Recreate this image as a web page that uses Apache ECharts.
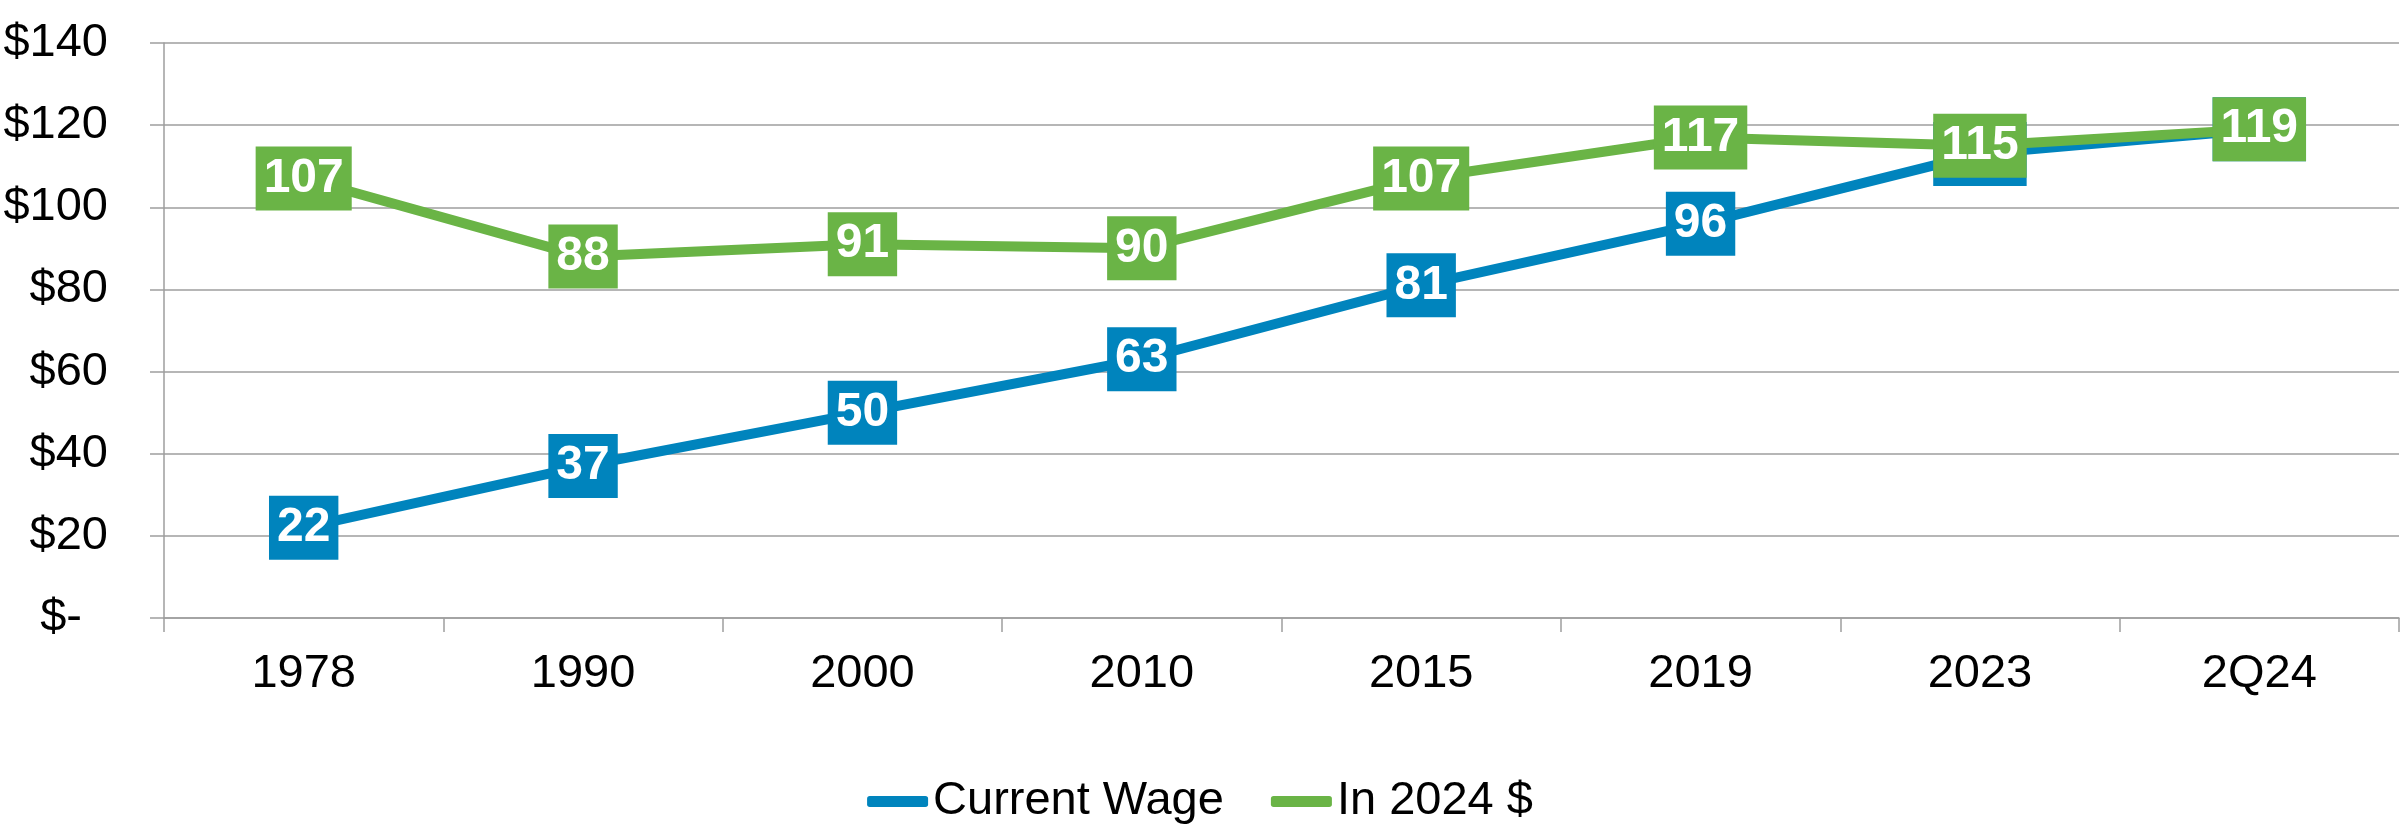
<!DOCTYPE html>
<html>
<head>
<meta charset="utf-8">
<script src="https://cdn.jsdelivr.net/npm/echarts@6/dist/echarts.min.js"></script>
<style>
  html, body { margin: 0; padding: 0; background: #fff; }
  #chart { width: 2400px; height: 824px; }
</style>
</head>
<body>
<div id="chart"></div>
<script>
// chart data
const years = ["1978", "1990", "2000", "2010", "2015", "2019", "2023", "2Q24"];
const currentWage = [22, 37, 50, 63, 81, 96, 113, 119];
const in2024 = [107, 88, 91, 90, 107, 117, 115, 119];
const yTicks = [0, 20, 40, 60, 80, 100, 120, 140];

const BLUE = "#0084BD";
const GREEN = "#6AB446";
const GRID = "#9E9E9E";
const FONT = "'Liberation Sans', Arial, sans-serif";

const chart = echarts.init(document.getElementById("chart"));

function seriesFor(name, data, color, z) {
  return {
    name: name,
    type: "line",
    data: data,
    z: z,
    symbol: "rect",
    symbolSize: 1,
    itemStyle: { color: color },
    lineStyle: { color: color, width: 10 },
    label: {
      show: true,
      position: "inside",
      color: "#fff",
      fontFamily: FONT,
      fontWeight: "bold",
      fontSize: 48,
      lineHeight: 48,
      backgroundColor: color,
      padding: [8, 8]
    },
    emphasis: { disabled: true }
  };
}

chart.setOption({
  animation: false,
  textStyle: { fontFamily: FONT },
  grid: { left: 164, right: 1, top: 43, bottom: 206, containLabel: false },
  legend: {
    top: 773,
    left: "center",
    icon: "roundRect",
    itemWidth: 61,
    itemHeight: 11,
    itemGap: 47,
    textStyle: { fontSize: 47, color: "#000", fontFamily: FONT },
    data: ["Current Wage", "In 2024 $"]
  },
  xAxis: {
    type: "category",
    data: years,
    boundaryGap: true,
    axisLine: { lineStyle: { color: GRID, width: 1.5 } },
    axisTick: { show: true, length: 14, lineStyle: { color: GRID, width: 1.5 } },
    axisLabel: { color: "#000", fontSize: 47, margin: 33, fontFamily: FONT }
  },
  yAxis: {
    type: "value",
    min: yTicks[0],
    max: yTicks[yTicks.length - 1],
    interval: yTicks[1] - yTicks[0],
    axisLine: { show: true, lineStyle: { color: GRID, width: 1.5 } },
    axisTick: { show: true, length: 14, lineStyle: { color: GRID, width: 1.5 } },
    splitLine: { lineStyle: { color: GRID, width: 1.5 } },
    axisLabel: {
      color: "#000",
      fontSize: 47,
      margin: 56,
      fontFamily: FONT,
      formatter: function (v) { return v === 0 ? "{z|$-}" : "$" + v; },
      rich: { z: { fontSize: 47, color: "#000", fontFamily: FONT, padding: [0, 26, 0, 0] } }
    }
  },
  series: [
    seriesFor("Current Wage", currentWage, BLUE, 2),
    seriesFor("In 2024 $", in2024, GREEN, 3)
  ]
});
</script>
</body>
</html>
